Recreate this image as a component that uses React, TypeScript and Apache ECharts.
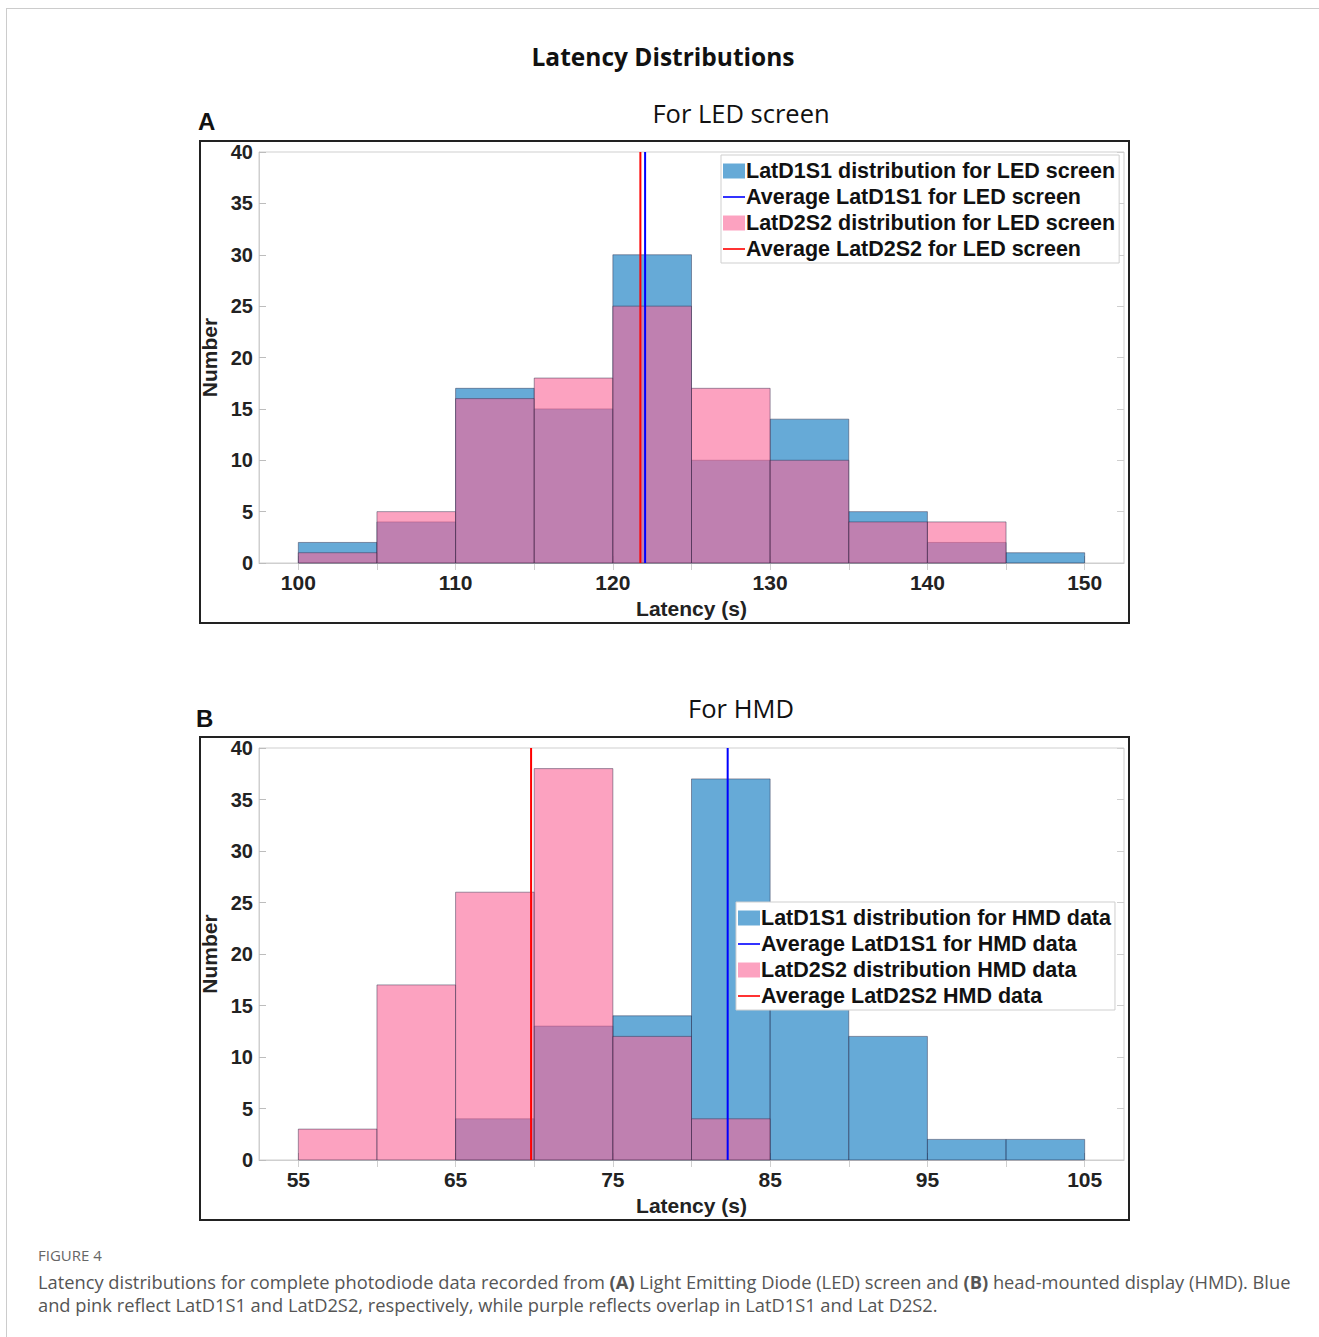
import React, { useEffect, useRef } from 'react';
import * as echarts from 'echarts';

// ---------- data ----------
const ledBinEdges = [100, 105, 110, 115, 120, 125, 130, 135, 140, 145, 150];
const ledLatD1S1 = [2, 4, 17, 15, 30, 10, 14, 5, 2, 1];
const ledLatD2S2 = [1, 5, 16, 18, 25, 17, 10, 4, 4, 0];
const ledMeanD1S1 = 122.05;
const ledMeanD2S2 = 121.75;
const ledTicks = [100, 110, 120, 130, 140, 150];

const hmdBinEdges = [55, 60, 65, 70, 75, 80, 85, 90, 95, 100, 105];
const hmdLatD1S1 = [0, 0, 4, 13, 14, 37, 16, 12, 2, 2];
const hmdLatD2S2 = [3, 17, 26, 38, 12, 4, 0, 0, 0, 0];
const hmdMeanD1S1 = 82.3;
const hmdMeanD2S2 = 69.8;
const hmdTicks = [55, 65, 75, 85, 95, 105];

const minorTicksLed = [105, 115, 125, 135, 145];
const minorTicksHmd = [60, 70, 80, 90, 100];

const ledNames = [
  'LatD1S1 distribution for LED screen',
  'Average LatD1S1 for LED screen',
  'LatD2S2 distribution for LED screen',
  'Average LatD2S2 for LED screen',
];
const hmdNames = [
  'LatD1S1 distribution for HMD data',
  'Average LatD1S1 for HMD data',
  'LatD2S2 distribution HMD data',
  'Average LatD2S2 HMD data',
];

const BLUE = 'rgba(0,114,189,0.6)';
const PINK = 'rgba(250,100,150,0.6)';
const AXIS_FONT = '"Liberation Sans", Arial, sans-serif';
const TITLE_FONT = '"Open Sans", Lato, sans-serif';
const LINE_ICON = 'path://M0,0 L22,0 L22,1.6 L0,1.6 Z';

function histData(edges: number[], counts: number[]) {
  return counts.map((c, i) => [edges[i], edges[i + 1], c]);
}

function histSeries(name: string, edges: number[], counts: number[], color: string, idx: number) {
  return {
    type: 'custom',
    name,
    xAxisIndex: idx,
    yAxisIndex: idx,
    itemStyle: { color },
    encode: { x: [0, 1], y: 2 },
    data: histData(edges, counts),
    renderItem: (params: any, api: any) => {
      const s = api.value(0);
      const e = api.value(1);
      const c = api.value(2);
      if (!c) return null;
      const p0 = api.coord([s, c]);
      const p1 = api.coord([e, 0]);
      return {
        type: 'rect',
        shape: { x: p0[0], y: p0[1], width: p1[0] - p0[0], height: p1[1] - p0[1] },
        style: { fill: color, stroke: 'rgba(40,40,70,0.45)', lineWidth: 1 },
      };
    },
  };
}

function meanSeries(name: string, mean: number, color: string, idx: number) {
  return {
    type: 'line',
    name,
    xAxisIndex: idx,
    yAxisIndex: idx,
    symbol: 'none',
    showSymbol: false,
    lineStyle: { color, width: 2 },
    itemStyle: { color },
    data: [
      [mean, 0],
      [mean, 40],
    ],
    z: 5,
  };
}

function xAxisMain(idx: number, min: number, max: number, ticks: number[]) {
  return {
    type: 'value',
    gridIndex: idx,
    min,
    max,
    name: 'Latency (s)',
    nameLocation: 'middle',
    nameGap: 35,
    nameTextStyle: { fontFamily: AXIS_FONT, fontWeight: 'bold', fontSize: 21, color: '#222' },
    axisLine: { show: true, onZero: false, lineStyle: { color: '#cfcfcf' } },
    axisTick: { show: true, inside: true, length: 7, customValues: ticks, lineStyle: { color: '#bdbdbd' } },
    axisLabel: {
      customValues: ticks,
      margin: 9,
      fontFamily: AXIS_FONT,
      fontWeight: 'bold',
      fontSize: 21,
      color: '#222',
    },
    splitLine: { show: false },
  };
}

function xAxisTop(idx: number, min: number, max: number, ticks: number[]) {
  return {
    type: 'value',
    gridIndex: idx,
    position: 'top',
    min,
    max,
    axisLine: { show: false },
    axisTick: { show: true, inside: true, length: 7, customValues: ticks, lineStyle: { color: '#cfcfcf' } },
    axisLabel: { show: false },
    splitLine: { show: false },
  };
}

function yAxisMain(idx: number) {
  return {
    type: 'value',
    gridIndex: idx,
    min: 0,
    max: 40,
    interval: 5,
    name: 'Number',
    nameLocation: 'middle',
    nameGap: 35,
    nameTextStyle: { fontFamily: AXIS_FONT, fontWeight: 'bold', fontSize: 21, color: '#222' },
    axisLine: { show: true, lineStyle: { color: '#cfcfcf' } },
    axisTick: { show: true, inside: true, length: 7, lineStyle: { color: '#bdbdbd' } },
    axisLabel: { margin: 6, fontFamily: AXIS_FONT, fontWeight: 'bold', fontSize: 20, color: '#222' },
    splitLine: { show: false },
  };
}

function yAxisRight(idx: number) {
  return {
    type: 'value',
    gridIndex: idx,
    position: 'right',
    min: 0,
    max: 40,
    interval: 5,
    axisLine: { show: false },
    axisTick: { show: true, inside: true, length: 7, lineStyle: { color: '#cfcfcf' } },
    axisLabel: { show: false },
    splitLine: { show: false },
  };
}

function legendCfg(left: number, top: number, names: string[]) {
  return {
    left,
    top,
    orient: 'vertical',
    selectedMode: false,
    backgroundColor: '#ffffff',
    borderColor: '#cfcfcf',
    borderWidth: 1,
    borderRadius: 0,
    padding: [5, 4, 3, 2],
    itemGap: 4,
    itemWidth: 22,
    itemHeight: 15,
    textStyle: { fontFamily: AXIS_FONT, fontWeight: 'bold', fontSize: 21.5, color: '#111', padding: [0, 0, 0, -4] },
    data: [
      { name: names[0], icon: 'rect' },
      { name: names[1], icon: LINE_ICON },
      { name: names[2], icon: 'rect' },
      { name: names[3], icon: LINE_ICON },
    ],
  };
}

export default function App() {
  const ref = useRef<HTMLDivElement>(null);
  useEffect(() => {
    if (!ref.current) return;
    const chart = echarts.init(ref.current, null, { renderer: 'svg' });
    const option: any = {
      animation: false,
      backgroundColor: '#ffffff',
      grid: [
        { left: 259, top: 152, width: 865, height: 411, show: true, borderColor: '#cfcfcf', borderWidth: 1, backgroundColor: 'transparent' },
        { left: 259, top: 748, width: 865, height: 412, show: true, borderColor: '#cfcfcf', borderWidth: 1, backgroundColor: 'transparent' },
      ],
      xAxis: [
        xAxisMain(0, 97.5, 152.5, ledTicks),
        xAxisMain(1, 52.5, 107.5, hmdTicks),
        xAxisTop(0, 97.5, 152.5, ledTicks.concat(minorTicksLed).sort((a, b) => a - b)),
        xAxisTop(1, 52.5, 107.5, hmdTicks.concat(minorTicksHmd).sort((a, b) => a - b)),
      ],
      yAxis: [yAxisMain(0), yAxisMain(1), yAxisRight(0), yAxisRight(1)],
      legend: [legendCfg(721, 155, ledNames), legendCfg(736, 902, hmdNames)],
      series: [
        histSeries(ledNames[0], ledBinEdges, ledLatD1S1, BLUE, 0),
        histSeries(ledNames[2], ledBinEdges, ledLatD2S2, PINK, 0),
        meanSeries(ledNames[1], ledMeanD1S1, '#0000ff', 0),
        meanSeries(ledNames[3], ledMeanD2S2, '#ff0000', 0),
        histSeries(hmdNames[0], hmdBinEdges, hmdLatD1S1, BLUE, 1),
        histSeries(hmdNames[2], hmdBinEdges, hmdLatD2S2, PINK, 1),
        meanSeries(hmdNames[1], hmdMeanD1S1, '#0000ff', 1),
        meanSeries(hmdNames[3], hmdMeanD2S2, '#ff0000', 1),
      ],
      graphic: [
        { type: 'line', shape: { x1: 6, y1: 8.5, x2: 1319, y2: 8.5 }, style: { stroke: '#cccccc', lineWidth: 1 } },
        { type: 'line', shape: { x1: 6.5, y1: 8, x2: 6.5, y2: 1337 }, style: { stroke: '#cccccc', lineWidth: 1 } },
        { type: 'rect', shape: { x: 200, y: 141, width: 929, height: 482 }, style: { fill: 'none', stroke: '#222', lineWidth: 2 }, z: -1 },
        { type: 'rect', shape: { x: 200, y: 737, width: 929, height: 483 }, style: { fill: 'none', stroke: '#222', lineWidth: 2 }, z: -1 },
        {
          type: 'text', x: 663, y: 56,
          style: { text: 'Latency Distributions', fontFamily: TITLE_FONT, fontWeight: 'bold', fontSize: 24.5, fill: '#111', align: 'center', verticalAlign: 'middle' },
        },
        {
          type: 'text', x: 741, y: 113,
          style: { text: 'For LED screen', fontFamily: TITLE_FONT, fontSize: 25.5, fill: '#111', align: 'center', verticalAlign: 'middle' },
        },
        {
          type: 'text', x: 741, y: 708,
          style: { text: 'For HMD', fontFamily: TITLE_FONT, fontSize: 25.5, fill: '#111', align: 'center', verticalAlign: 'middle' },
        },
        {
          type: 'text', x: 198, y: 121,
          style: { text: 'A', fontFamily: AXIS_FONT, fontWeight: 'bold', fontSize: 24, fill: '#111', align: 'left', verticalAlign: 'middle' },
        },
        {
          type: 'text', x: 196, y: 718,
          style: { text: 'B', fontFamily: AXIS_FONT, fontWeight: 'bold', fontSize: 24, fill: '#111', align: 'left', verticalAlign: 'middle' },
        },
        {
          type: 'text', x: 38, y: 1255,
          style: { text: 'FIGURE 4', fontFamily: '"Open Sans", sans-serif', fontSize: 15, fill: '#666', align: 'left', verticalAlign: 'middle' },
        },
        {
          type: 'text', x: 38, y: 1281,
          style: {
            text: 'Latency distributions for complete photodiode data recorded from {b|(A)} Light Emitting Diode (LED) screen and {b|(B)} head-mounted display (HMD). Blue',
            fontFamily: '"Open Sans", sans-serif', fontSize: 18.3, fill: '#555', align: 'left', verticalAlign: 'middle',
            rich: { b: { fontFamily: '"Open Sans", sans-serif', fontSize: 18.3, fontWeight: 'bold', fill: '#555' } },
          },
        },
        {
          type: 'text', x: 38, y: 1304,
          style: {
            text: 'and pink reflect LatD1S1 and LatD2S2, respectively, while purple reflects overlap in LatD1S1 and Lat D2S2.',
            fontFamily: '"Open Sans", sans-serif', fontSize: 18.3, fill: '#555', align: 'left', verticalAlign: 'middle',
          },
        },
      ],
    };
    chart.setOption(option);
    return () => chart.dispose();
  }, []);
  return (
    <div
      ref={ref}
      style={{ position: 'absolute', left: 0, top: 0, width: 1319, height: 1337, background: '#fff' }}
    />
  );
}
